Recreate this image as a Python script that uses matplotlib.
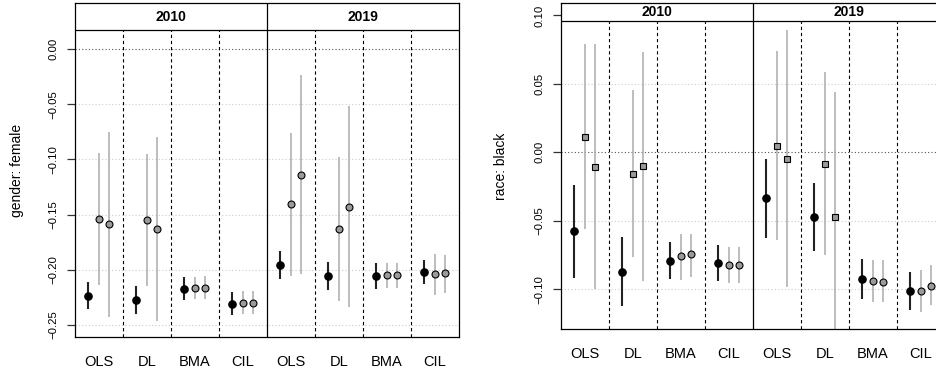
import matplotlib
matplotlib.use("Agg")
import matplotlib.pyplot as plt
from matplotlib.patches import Rectangle

plt.rcParams['font.family'] = ['Liberation Sans', 'DejaVu Sans']

# ---------------- data ----------------
methods = ["OLS", "DL", "BMA", "CIL"]
years = ["2010", "2019"]

# each list: per method (OLS, DL, BMA, CIL) three estimators -> 12 values
gender_2010_est = [-0.2234, -0.1540, -0.1585,  -0.2270, -0.1549, -0.1630,
                   -0.2171, -0.2168, -0.2165,  -0.2310, -0.2297, -0.2303]
gender_2010_lo  = [-0.2358, -0.2138, -0.2425,  -0.2397, -0.2144, -0.2464,
                   -0.2276, -0.2268, -0.2268,  -0.2412, -0.2403, -0.2403]
gender_2010_hi  = [-0.2113, -0.0945, -0.0752,  -0.2150, -0.0954, -0.0794,
                   -0.2065, -0.2065, -0.2056,  -0.2201, -0.2192, -0.2192]

gender_2019_est = [-0.1957, -0.1407, -0.1138,  -0.2059, -0.1630, -0.1428,
                   -0.2056, -0.2050, -0.2050,  -0.2017, -0.2038, -0.2032]
gender_2019_lo  = [-0.2086, -0.2053, -0.2041,  -0.2186, -0.2283, -0.2334,
                   -0.2171, -0.2165, -0.2165,  -0.2129, -0.2228, -0.2210]
gender_2019_hi  = [-0.1827, -0.0761, -0.0236,  -0.1932, -0.0978, -0.0519,
                   -0.1941, -0.1941, -0.1941,  -0.1908, -0.1857, -0.1869]

race_2010_est = [-0.0577,  0.0115, -0.0105,  -0.0875, -0.0156, -0.0100,
                 -0.0797, -0.0758, -0.0746,  -0.0809, -0.0824, -0.0821]
race_2010_lo  = [-0.0916, -0.0560, -0.0999,  -0.1123, -0.0768, -0.0938,
                 -0.0926, -0.0931, -0.0909,  -0.0941, -0.0958, -0.0958]
race_2010_hi  = [-0.0239,  0.0792,  0.0792,  -0.0621,  0.0458,  0.0736,
                 -0.0658, -0.0599, -0.0597,  -0.0677, -0.0694, -0.0689]

race_2019_est = [-0.0336,  0.0049, -0.0046,  -0.0475, -0.0083, -0.0473,
                 -0.0926, -0.0943, -0.0946,  -0.1016, -0.1014, -0.0975]
race_2019_lo  = [-0.0626, -0.0643, -0.0982,  -0.0724, -0.0750, -0.1400,
                 -0.1075, -0.1092, -0.1097,  -0.1155, -0.1165, -0.1118]
race_2019_hi  = [-0.0051,  0.0741,  0.0892,  -0.0227,  0.0587,  0.0441,
                 -0.0777, -0.0787, -0.0790,  -0.0877, -0.0860, -0.0826]

gender_ticks = [0.00, -0.05, -0.10, -0.15, -0.20, -0.25]
gender_ticklabels = ["0.00", "\u22120.05", "\u22120.10", "\u22120.15", "\u22120.20", "\u22120.25"]
race_ticks = [0.10, 0.05, 0.00, -0.05, -0.10]
race_ticklabels = ["0.10", "0.05", "0.00", "\u22120.05", "\u22120.10"]
race_square_methods = ["OLS", "DL"]

# ---------------- layout ----------------
W, H = 937, 372
fig = plt.figure(figsize=(W / 100, H / 100), dpi=100)


def add_axes_px(l, t, r, b):
    return fig.add_axes([l / W, 1 - b / H, (r - l) / W, (b - t) / H])


def draw_panel(ax, est, lo, hi, ylim, strip_bottom, ticks, ticklabels, ylabel,
               square_methods):
    ax.set_xlim(0.5, 8.5)
    ax.set_ylim(*ylim)
    for t in ticks:
        if t == 0:
            ax.axhline(t, color='#555555', ls=(0, (1, 2)), lw=0.8, zorder=0)
        else:
            ax.axhline(t, color='#cccccc', ls=(0, (1, 2)), lw=0.8, zorder=0)
    off = 2 / 9
    for yi in range(2):
        for mi, m in enumerate(methods):
            g = yi * 4 + mi + 1
            for k in range(3):
                idx = mi * 3 + k
                x = g + (k - 1) * off
                e, l_, h_ = est[yi][idx], lo[yi][idx], hi[yi][idx]
                if k == 0:
                    ax.plot([x, x], [l_, h_], color='#222222', lw=1.5, zorder=2,
                            solid_capstyle='butt')
                    ax.plot([x], [e], marker='o', ms=5.2, mfc='black', mec='black',
                            zorder=3)
                else:
                    ax.plot([x, x], [l_, h_], color='#ababab', lw=1.1, zorder=2,
                            solid_capstyle='butt')
                    mk = 's' if m in square_methods else 'o'
                    ax.plot([x], [e], marker=mk, ms=5.0 if mk == 'o' else 4.6,
                            mfc='#9a9a9a', mec='black', mew=0.8, zorder=3)
    # separators
    for xs in [1.5, 2.5, 3.5, 5.5, 6.5, 7.5]:
        ax.plot([xs, xs], [ylim[0], strip_bottom], color='black', lw=0.8,
                ls=(0, (3, 2.5)), zorder=1)
    ax.plot([4.5, 4.5], [ylim[0], ylim[1]], color='black', lw=0.9, zorder=6)
    # strip
    ax.add_patch(Rectangle((0.5, strip_bottom), 8, ylim[1] - strip_bottom,
                           facecolor='white', edgecolor='black', lw=0.9, zorder=5))
    ymid = (strip_bottom + ylim[1]) / 2
    for yi, yr in enumerate(years):
        ax.text(2.5 + 4 * yi, ymid, yr, ha='center', va='center',
                fontweight='bold', fontsize=10, zorder=7)
    # axes styling
    for s in ax.spines.values():
        s.set_linewidth(0.9)
    ax.set_xticks(range(1, 9))
    ax.set_xticklabels(methods * 2, fontsize=10.5)
    ax.tick_params(axis='x', length=0, pad=13)
    ax.set_yticks(ticks)
    ax.set_yticklabels(ticklabels, fontsize=8.2, rotation=90, va='center')
    ax.tick_params(axis='y', length=5.5, width=0.9, color='#333333', pad=6.5)
    ax.set_ylabel(ylabel, fontsize=10)


ax1 = add_axes_px(74.7, 3.3, 458.7, 337)
draw_panel(ax1, [gender_2010_est, gender_2019_est], [gender_2010_lo, gender_2019_lo],
           [gender_2010_hi, gender_2019_hi], (-0.2609, 0.0414), 0.0172,
           gender_ticks, gender_ticklabels, "gender: female", [])
ax1.yaxis.set_label_coords(-0.133, 0.5)

ax2 = add_axes_px(560.7, 3.3, 944.7, 329)
draw_panel(ax2, [race_2010_est, race_2019_est], [race_2010_lo, race_2019_lo],
           [race_2010_hi, race_2019_hi], (-0.1291, 0.1089), 0.0960,
           race_ticks, race_ticklabels, "race: black", race_square_methods)
ax2.yaxis.set_label_coords(-0.138, 0.5)

fig.savefig("out.png", dpi=100)
